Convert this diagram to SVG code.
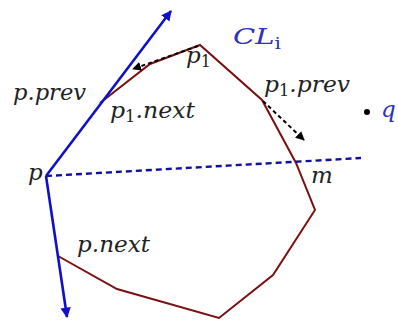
<svg xmlns="http://www.w3.org/2000/svg" width="398" height="320" viewBox="0 0 398 320">
<defs>
<marker id="ab" viewBox="0 0 10 10" refX="9" refY="5" markerWidth="4" markerHeight="4" orient="auto" markerUnits="strokeWidth"><path d="M0,0 L10,5 L0,10 z" fill="#1010c8"/></marker>
<marker id="ak" viewBox="0 0 10 10" refX="9" refY="5" markerWidth="4.5" markerHeight="4.5" orient="auto" markerUnits="strokeWidth"><path d="M0,0 L10,5 L0,10 z" fill="#000"/></marker>
<style>
.t{font-family:"DejaVu Serif","Liberation Serif",serif;font-style:italic;font-size:23px;fill:#222}
.s{font-style:normal;font-size:16px}
.blue{fill:#3030c0}
.poly{fill:none;stroke:#7a1010;stroke-width:2}
.bl{stroke:#1010c8;stroke-width:2.6;fill:none}
.dash{stroke:#1010a0;stroke-width:2.4;stroke-dasharray:6,4;fill:none}
.kd{stroke:#000;stroke-width:2;stroke-dasharray:4,3;fill:none}
</style>
</defs>
<g id="polygon">
<polyline class="poly" points="100,103 150,64 200,45 262,100 296,163 315,210 273,275 219,318 117,289 58,256"/>
</g>
<g id="connectors">
<line class="bl" x1="46" y1="176" x2="171" y2="11" marker-end="url(#ab)"/>
<line class="bl" x1="46" y1="176" x2="67" y2="317" marker-end="url(#ab)"/>
<line class="dash" x1="46" y1="176" x2="361" y2="158"/>
<line class="kd" x1="198" y1="46" x2="133" y2="69" marker-end="url(#ak)"/>
<line class="kd" x1="263" y1="101" x2="304" y2="140" marker-end="url(#ak)"/>
</g>
<g id="q"><circle cx="367" cy="112" r="3" fill="#000"/><text class="t blue" x="381" y="117">q</text></g>
<g id="labels">
<text class="t blue" x="233" y="44" textLength="48" lengthAdjust="spacingAndGlyphs">CL<tspan class="s" dy="5">i</tspan></text>
<text class="t" x="13" y="100" textLength="73" lengthAdjust="spacingAndGlyphs">p.prev</text>
<text class="t" x="110" y="118" textLength="85" lengthAdjust="spacingAndGlyphs">p<tspan class="s" dy="4">1</tspan><tspan dy="-4">.next</tspan></text>
<text class="t" x="186" y="63">p<tspan class="s" dy="4">1</tspan></text>
<text class="t" x="264" y="92" textLength="86" lengthAdjust="spacingAndGlyphs">p<tspan class="s" dy="4">1</tspan><tspan dy="-4">.prev</tspan></text>
<text class="t" x="28" y="180">p</text>
<text class="t" x="311" y="183">m</text>
<text class="t" x="77" y="252" textLength="73" lengthAdjust="spacingAndGlyphs">p.next</text>
</g>
</svg>
